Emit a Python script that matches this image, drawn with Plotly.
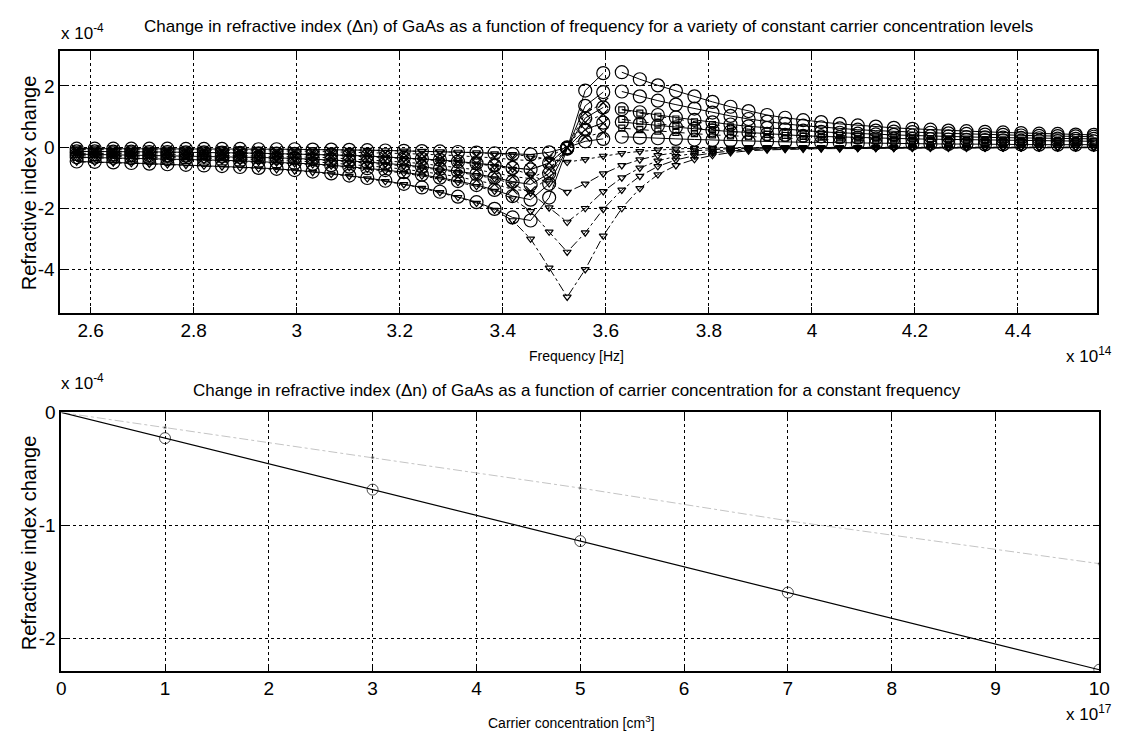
import plotly.graph_objects as go

# ---------------- data (top panel, units: 1e14 Hz and 1e-4) ----------------
freq = [2.573, 2.608, 2.644, 2.679, 2.714, 2.749, 2.785, 2.820, 2.855, 2.890,
        2.926, 2.961, 2.996, 3.031, 3.067, 3.102, 3.137, 3.172, 3.208, 3.243,
        3.278, 3.313, 3.349, 3.384, 3.419, 3.454, 3.490, 3.525, 3.560, 3.595,
        3.631, 3.666, 3.701, 3.736, 3.772, 3.807, 3.842, 3.877, 3.913, 3.948,
        3.983, 4.018, 4.054, 4.089, 4.124, 4.159, 4.195, 4.230, 4.265, 4.300,
        4.336, 4.371, 4.406, 4.441, 4.477, 4.512, 4.547]
n_below = 30  # points below the absorption edge (first segment)

# total change (solid line, circles), below edge
total_below_N1 = [-0.05, -0.05, -0.05, -0.05, -0.05, -0.05, -0.06, -0.06, -0.06, -0.06,
                  -0.07, -0.07, -0.07, -0.08, -0.08, -0.09, -0.10, -0.11, -0.12, -0.13,
                  -0.14, -0.16, -0.18, -0.20, -0.23, -0.24, -0.17, -0.01, 0.19, 0.27]
total_below_N3 = [-0.14, -0.14, -0.15, -0.15, -0.16, -0.16, -0.17, -0.17, -0.18, -0.19,
                  -0.20, -0.21, -0.22, -0.23, -0.25, -0.27, -0.29, -0.32, -0.35, -0.38,
                  -0.42, -0.47, -0.53, -0.59, -0.68, -0.73, -0.52, -0.02, 0.57, 0.80]
total_below_N5 = [-0.23, -0.24, -0.25, -0.25, -0.26, -0.27, -0.28, -0.29, -0.30, -0.32,
                  -0.33, -0.35, -0.37, -0.39, -0.42, -0.45, -0.49, -0.53, -0.58, -0.64,
                  -0.71, -0.79, -0.88, -0.99, -1.13, -1.22, -0.86, -0.03, 0.95, 1.30]
total_below_N7 = [-0.33, -0.34, -0.35, -0.36, -0.37, -0.39, -0.40, -0.42, -0.43, -0.45,
                  -0.47, -0.49, -0.52, -0.55, -0.59, -0.64, -0.69, -0.75, -0.82, -0.90,
                  -1.00, -1.11, -1.24, -1.40, -1.60, -1.72, -1.20, -0.04, 1.35, 1.80]
total_below_N10 = [-0.47, -0.48, -0.50, -0.52, -0.54, -0.56, -0.58, -0.60, -0.62, -0.65,
                   -0.68, -0.71, -0.75, -0.80, -0.86, -0.93, -1.01, -1.10, -1.20, -1.32,
                   -1.46, -1.62, -1.80, -2.02, -2.30, -2.40, -1.65, -0.05, 1.85, 2.42]

# total change (solid line, circles), above edge
total_above_N1 = [0.34, 0.31, 0.29, 0.27, 0.25, 0.23, 0.21, 0.19, 0.18, 0.17,
                  0.16, 0.15, 0.14, 0.13, 0.12, 0.12, 0.11, 0.11, 0.10, 0.10,
                  0.09, 0.09, 0.09, 0.08, 0.08, 0.08, 0.08]
total_above_N3 = [0.82, 0.76, 0.70, 0.65, 0.60, 0.55, 0.51, 0.47, 0.43, 0.40,
                  0.37, 0.35, 0.33, 0.31, 0.29, 0.28, 0.27, 0.26, 0.25, 0.24,
                  0.23, 0.22, 0.21, 0.21, 0.20, 0.20, 0.19]
total_above_N5 = [1.24, 1.14, 1.05, 0.97, 0.89, 0.81, 0.74, 0.68, 0.63, 0.58,
                  0.54, 0.50, 0.47, 0.44, 0.42, 0.40, 0.38, 0.36, 0.35, 0.33,
                  0.32, 0.31, 0.30, 0.29, 0.28, 0.27, 0.27]
total_above_N7 = [1.82, 1.66, 1.52, 1.39, 1.26, 1.13, 1.02, 0.92, 0.83, 0.76,
                  0.70, 0.65, 0.61, 0.57, 0.54, 0.51, 0.49, 0.47, 0.45, 0.43,
                  0.41, 0.40, 0.38, 0.37, 0.36, 0.35, 0.34]
total_above_N10 = [2.45, 2.22, 2.02, 1.84, 1.66, 1.48, 1.32, 1.18, 1.05, 0.96,
                   0.88, 0.82, 0.76, 0.71, 0.67, 0.63, 0.60, 0.57, 0.54, 0.52,
                   0.50, 0.48, 0.46, 0.44, 0.43, 0.41, 0.40]

# band-filling-like component (dash-dot line, 'v' markers), all frequencies
fill_N1 = [-0.05, -0.05, -0.05, -0.05, -0.06, -0.06, -0.06, -0.06, -0.06, -0.07,
           -0.07, -0.07, -0.08, -0.08, -0.09, -0.10, -0.10, -0.11, -0.12, -0.13,
           -0.15, -0.16, -0.18, -0.21, -0.24, -0.30, -0.40, -0.49, -0.40, -0.29,
           -0.20, -0.14, -0.09, -0.06, -0.04, -0.03, -0.02, -0.01, -0.01, -0.01,
           -0.01, -0.01, -0.01, -0.01, 0.00, 0.00, 0.00, 0.00, 0.00, 0.00,
           0.00, 0.00, 0.00, 0.00, 0.00, 0.00, 0.00]
fill_N3 = [-0.14, -0.15, -0.15, -0.16, -0.16, -0.17, -0.18, -0.18, -0.19, -0.20,
           -0.21, -0.22, -0.23, -0.25, -0.26, -0.29, -0.31, -0.34, -0.37, -0.40,
           -0.44, -0.49, -0.55, -0.62, -0.72, -0.90, -1.19, -1.47, -1.20, -0.87,
           -0.60, -0.41, -0.27, -0.18, -0.12, -0.08, -0.05, -0.04, -0.03, -0.02,
           -0.02, -0.02, -0.01, -0.01, -0.01, -0.01, -0.01, -0.01, -0.01, -0.01,
           -0.01, -0.01, -0.01, -0.01, -0.01, -0.01, -0.01]
fill_N5 = [-0.24, -0.25, -0.26, -0.27, -0.28, -0.29, -0.30, -0.31, -0.32, -0.34,
           -0.35, -0.37, -0.39, -0.41, -0.44, -0.48, -0.52, -0.56, -0.61, -0.67,
           -0.74, -0.82, -0.92, -1.03, -1.20, -1.50, -1.98, -2.45, -2.00, -1.45,
           -1.00, -0.68, -0.45, -0.30, -0.20, -0.14, -0.09, -0.06, -0.05, -0.04,
           -0.03, -0.03, -0.02, -0.02, -0.02, -0.02, -0.02, -0.01, -0.01, -0.01,
           -0.01, -0.01, -0.01, -0.01, -0.01, -0.01, -0.01]
fill_N7 = [-0.34, -0.35, -0.36, -0.37, -0.38, -0.40, -0.41, -0.43, -0.45, -0.47,
           -0.49, -0.51, -0.54, -0.57, -0.61, -0.66, -0.72, -0.78, -0.85, -0.94,
           -1.04, -1.15, -1.28, -1.44, -1.68, -2.10, -2.77, -3.43, -2.80, -2.03,
           -1.40, -0.95, -0.63, -0.42, -0.28, -0.19, -0.13, -0.08, -0.06, -0.05,
           -0.04, -0.04, -0.03, -0.03, -0.03, -0.03, -0.02, -0.02, -0.02, -0.02,
           -0.02, -0.02, -0.01, -0.01, -0.01, -0.01, -0.01]
fill_N10 = [-0.48, -0.49, -0.51, -0.53, -0.55, -0.57, -0.59, -0.61, -0.64, -0.67,
            -0.70, -0.73, -0.77, -0.82, -0.88, -0.95, -1.03, -1.12, -1.22, -1.34,
            -1.48, -1.64, -1.83, -2.06, -2.40, -3.00, -3.95, -4.90, -4.00, -2.90,
            -2.00, -1.35, -0.90, -0.60, -0.40, -0.27, -0.18, -0.12, -0.09, -0.07,
            -0.06, -0.05, -0.05, -0.04, -0.04, -0.04, -0.03, -0.03, -0.03, -0.03,
            -0.03, -0.02, -0.02, -0.02, -0.02, -0.02, -0.02]

# second component below the edge (dotted line, 'x' markers)
comp_x_N3 = [-0.08, -0.08, -0.09, -0.09, -0.10, -0.10, -0.10, -0.10, -0.11, -0.11,
             -0.12, -0.13, -0.13, -0.14, -0.15, -0.16, -0.17, -0.19, -0.21, -0.23,
             -0.25, -0.28, -0.32, -0.35, -0.41, -0.44, -0.31, -0.01, 0.34, 0.48]
comp_x_N5 = [-0.14, -0.14, -0.15, -0.15, -0.16, -0.16, -0.17, -0.17, -0.18, -0.19,
             -0.20, -0.21, -0.22, -0.23, -0.25, -0.27, -0.29, -0.32, -0.35, -0.38,
             -0.43, -0.47, -0.53, -0.59, -0.68, -0.73, -0.52, -0.02, 0.57, 0.78]
comp_x_N7 = [-0.20, -0.20, -0.21, -0.22, -0.22, -0.23, -0.24, -0.25, -0.26, -0.27,
             -0.28, -0.29, -0.31, -0.33, -0.35, -0.38, -0.41, -0.45, -0.49, -0.54,
             -0.60, -0.67, -0.74, -0.84, -0.96, -1.03, -0.72, -0.02, 0.81, 1.08]
comp_x_N10 = [-0.28, -0.29, -0.30, -0.31, -0.32, -0.34, -0.35, -0.36, -0.37, -0.39,
              -0.41, -0.43, -0.45, -0.48, -0.52, -0.56, -0.61, -0.66, -0.72, -0.79,
              -0.88, -0.97, -1.08, -1.21, -1.38, -1.44, -0.99, -0.03, 1.11, 1.45]

# third component above the edge (dashed line, square markers)
comp_s_N5 = [0.62, 0.57, 0.52, 0.48, 0.44, 0.40, 0.37, 0.34, 0.31, 0.29,
             0.27, 0.25, 0.23, 0.22, 0.21, 0.20, 0.19, 0.18, 0.17, 0.17,
             0.16, 0.15, 0.15, 0.14, 0.14, 0.14, 0.13]
comp_s_N7 = [0.91, 0.83, 0.76, 0.70, 0.63, 0.57, 0.51, 0.46, 0.42, 0.38,
             0.35, 0.33, 0.30, 0.29, 0.27, 0.26, 0.24, 0.23, 0.22, 0.21,
             0.21, 0.20, 0.19, 0.18, 0.18, 0.17, 0.17]
comp_s_N10 = [1.22, 1.11, 1.01, 0.92, 0.83, 0.74, 0.66, 0.59, 0.52, 0.48,
              0.44, 0.41, 0.38, 0.36, 0.34, 0.32, 0.30, 0.28, 0.27, 0.26,
              0.25, 0.24, 0.23, 0.22, 0.21, 0.21, 0.20]

top_xticks = [2.6, 2.8, 3.0, 3.2, 3.4, 3.6, 3.8, 4.0, 4.2, 4.4]
top_xticklabels = ["2.6", "2.8", "3", "3.2", "3.4", "3.6", "3.8", "4", "4.2", "4.4"]
top_yticks = [-4, -2, 0, 2]
top_yticklabels = ["-4", "-2", "0", "2"]

# ---------------- data (bottom panel, units: 1e17 cm^-3 and 1e-4) ----------------
conc = [0, 1, 3, 5, 7, 10]
dn_total = [0.0, -0.228, -0.684, -1.14, -1.596, -2.28]
dn_partial = [0.0, -0.134, -0.40, -0.67, -0.96, -1.34]
bot_xticks = [0, 1, 2, 3, 4, 5, 6, 7, 8, 9, 10]
bot_yticks = [-2, -1, 0]
bot_yticklabels = ["-2", "-1", "0"]

# ---------------- figure ----------------
W, H = 1132, 734
fig = go.Figure()

f_below = freq[:n_below]
f_above = freq[n_below:]

def add(x, y, dash, symbol, msize=11, xa="x", ya="y", width=1.0):
    fig.add_trace(go.Scatter(
        x=x, y=y, xaxis=xa, yaxis=ya, mode="lines+markers",
        line=dict(color="black", width=width, dash=dash),
        marker=dict(symbol=symbol, size=msize, color="black",
                    line=dict(color="black", width=1.2)),
        showlegend=False, hoverinfo="skip"))

for s in [fill_N1, fill_N3, fill_N5, fill_N7, fill_N10]:
    add(freq, s, "dashdot", "triangle-down-open", msize=7)
for s in [comp_x_N3, comp_x_N5, comp_x_N7, comp_x_N10]:
    add(f_below, s, "dot", "x-thin-open", msize=10)
for s in [comp_s_N5, comp_s_N7, comp_s_N10]:
    add(f_above, s, "dash", "square-open", msize=6)
for s in [total_below_N1, total_below_N3, total_below_N5, total_below_N7, total_below_N10]:
    add(f_below, s, "solid", "circle-open", msize=13)
for s in [total_above_N1, total_above_N3, total_above_N5, total_above_N7, total_above_N10]:
    add(f_above, s, "solid", "circle-open", msize=13)

# bottom panel
fig.add_trace(go.Scatter(
    x=conc, y=dn_partial, xaxis="x2", yaxis="y2", mode="lines+markers",
    line=dict(color="#c4c4c4", width=1, dash="dashdot"),
    marker=dict(symbol="circle", size=[0, 3, 3, 3, 3, 3], color="black"),
    showlegend=False, hoverinfo="skip"))
fig.add_trace(go.Scatter(
    x=conc, y=dn_total, xaxis="x2", yaxis="y2", mode="lines+markers",
    line=dict(color="black", width=1.2),
    marker=dict(symbol="circle-open", size=[0, 11, 11, 11, 11, 11], color="black",
                line=dict(color="black", width=1)),
    showlegend=False, hoverinfo="skip"))

def px_x(p):
    return p / W

def px_y(p):
    return 1 - p / H

tickfont = dict(family="Liberation Sans, Arial, sans-serif", size=19, color="black")
axis_common = dict(
    showline=True, linecolor="black", linewidth=1.6, mirror="ticks",
    ticks="inside", ticklen=6, tickcolor="black", tickwidth=1,
    showgrid=True, gridcolor="black", gridwidth=1, griddash="3px,3px",
    zeroline=False, tickfont=tickfont,
)

fig.update_layout(
    width=W, height=H, margin=dict(l=0, r=0, t=0, b=0),
    paper_bgcolor="white", plot_bgcolor="white",
    xaxis=dict(domain=[px_x(56), px_x(1108)], range=[2.541, 4.554], anchor="y",
               tickvals=top_xticks, ticktext=top_xticklabels, **axis_common),
    yaxis=dict(domain=[px_y(307), px_y(42)], range=[-5.42, 3.13], anchor="x",
               tickvals=top_yticks, ticktext=top_yticklabels, **axis_common),
    xaxis2=dict(domain=[px_x(57), px_x(1110)], range=[0, 10], anchor="y2",
                tickvals=bot_xticks, **axis_common),
    yaxis2=dict(domain=[px_y(670), px_y(408)], range=[-2.29, 0], anchor="x2",
                tickvals=bot_yticks, ticktext=bot_yticklabels, **axis_common),
)

title_font = dict(family="Liberation Sans Narrow, Liberation Sans, Arial", size=17, color="black")
xlabel_font = dict(family="Liberation Sans Narrow, Liberation Sans, Arial", size=14, color="black")
ylabel_font = dict(family="Liberation Sans, Arial, sans-serif", size=20, color="black")
mult_font = dict(family="Liberation Sans, Arial, sans-serif", size=17, color="black")

def note(text, x, y, font, xanchor="center", angle=0):
    fig.add_annotation(text=text, x=px_x(x), y=px_y(y), xref="paper", yref="paper",
                       showarrow=False, font=font, xanchor=xanchor, yanchor="middle",
                       textangle=angle)

note("Change in refractive index (\u0394n) of GaAs as a function of frequency for a variety of constant carrier concentration levels",
     592, 17, title_font)
note("x 10<sup>-4</sup>", 55, 22, mult_font, xanchor="left")
note("Refractive index change", 24, 175, ylabel_font, angle=-90)
note("Frequency [Hz]", 580, 351, xlabel_font)
note("x 10<sup>14</sup>", 1100, 350, mult_font)

note("Change in refractive index (\u0394n) of GaAs as a function of carrier concentration for a constant frequency",
     580, 386, title_font)
note("x 10<sup>-4</sup>", 55, 377, mult_font, xanchor="left")
note("Refractive index change", 24, 540, ylabel_font, angle=-90)
note("Carrier concentration [cm<sup>3</sup>]", 575, 722, xlabel_font)
note("x 10<sup>17</sup>", 1100, 713, mult_font)

fig.write_html("out.html")
